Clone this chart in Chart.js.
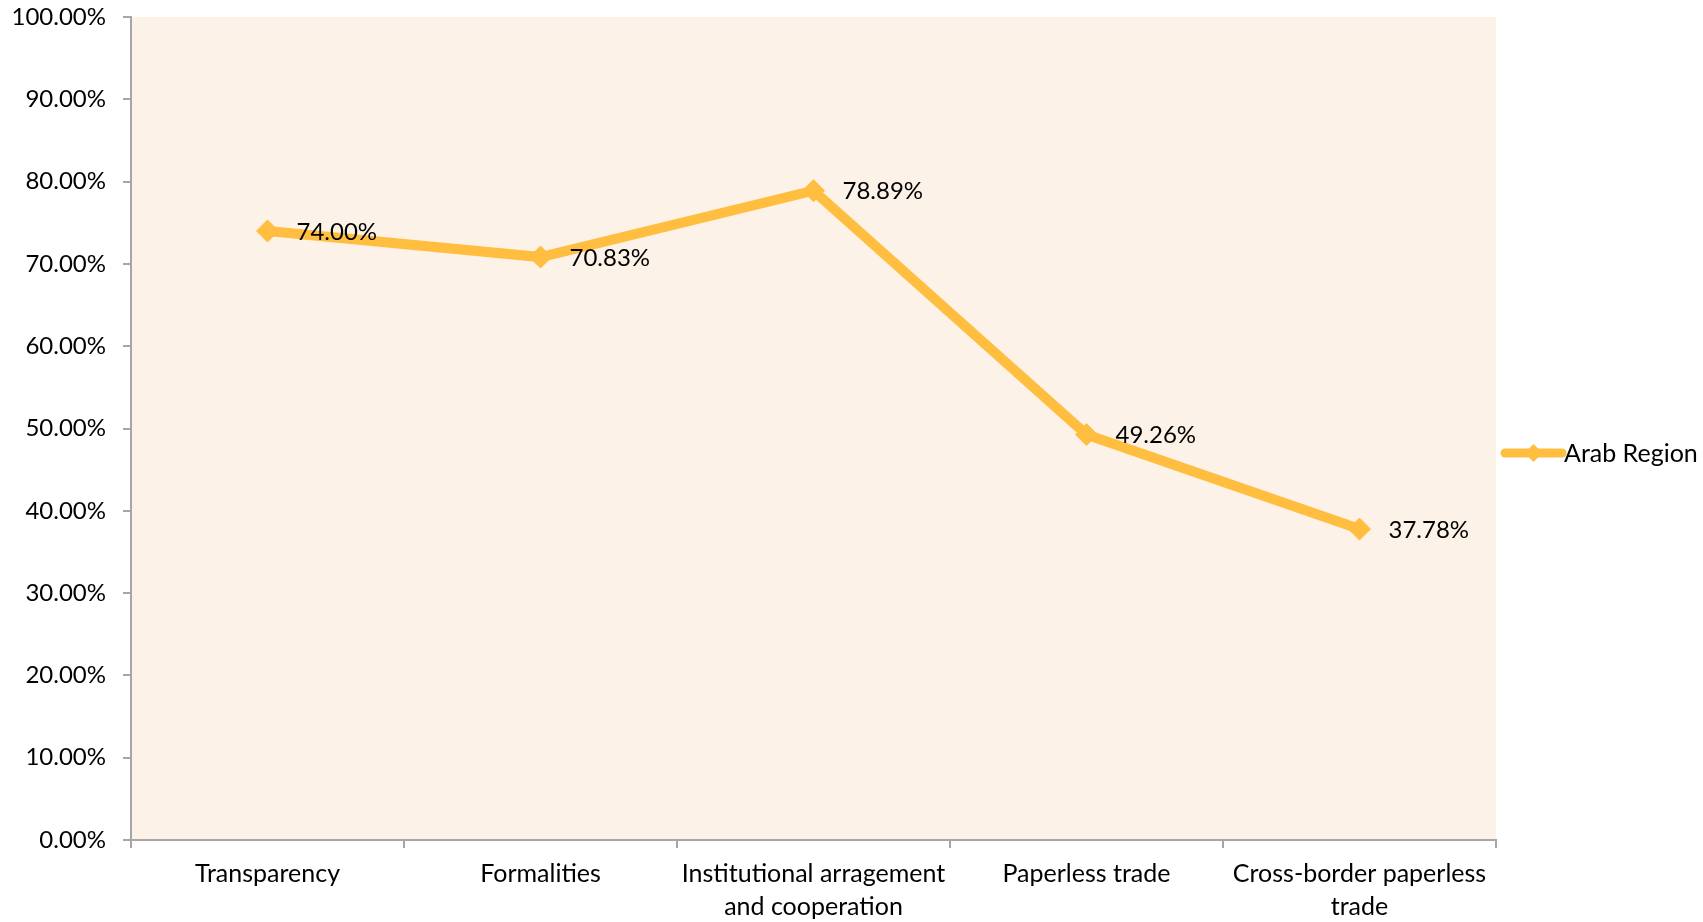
<!DOCTYPE html>
<html>
<head>
<meta charset="utf-8">
<script src="https://cdn.jsdelivr.net/npm/chart.js@4.4.0/dist/chart.umd.min.js"></script>
<style>
  html, body { margin: 0; padding: 0; background: #ffffff; }
  #wrap { width: 1703px; height: 922px; position: relative; }
</style>
</head>
<body>
<div id="wrap"><canvas id="chart"></canvas></div>
<script>
const categories = [
    'Transparency',
    'Formalities',
    ['Institutional arragement', 'and cooperation'],
    'Paperless trade',
    ['Cross-border paperless', 'trade']
];
const seriesName = 'Arab Region';
const arabRegion = [74.00, 70.83, 78.89, 49.26, 37.78];
const yTicks = [0, 10, 20, 30, 40, 50, 60, 70, 80, 90, 100];

const lineColor = '#FFBE40';
const plotBg = '#FDF2E7';
const axisColor = '#A6A6A6';
const fontFamily = 'Lato, "Open Sans", sans-serif';

// fills the plot area like the Excel plot background
const plotBackground = {
    id: 'plotBackground',
    beforeDraw(chart) {
        const { ctx, chartArea: a } = chart;
        ctx.save();
        ctx.fillStyle = plotBg;
        ctx.fillRect(a.left, a.top, a.right - a.left, a.bottom - a.top);
        ctx.restore();
    }
};

// value labels to the right of each point
const valueLabels = {
    id: 'valueLabels',
    afterDatasetsDraw(chart) {
        const { ctx } = chart;
        const meta = chart.getDatasetMeta(0);
        ctx.save();
        ctx.fillStyle = '#000000';
        ctx.font = '24px ' + fontFamily;
        ctx.textAlign = 'left';
        ctx.textBaseline = 'middle';
        meta.data.forEach((pt, i) => {
            ctx.fillText(arabRegion[i].toFixed(2) + '%', pt.x + 29, pt.y + 1);
        });
        ctx.restore();
    }
};

// right side legend: line sample with diamond, then the series name
const sideLegend = {
    id: 'sideLegend',
    afterDraw(chart) {
        const { ctx } = chart;
        const y = 453;
        const x0 = 1505, x1 = 1562;
        ctx.save();
        ctx.strokeStyle = lineColor;
        ctx.lineWidth = 9;
        ctx.lineCap = 'round';
        ctx.beginPath();
        ctx.moveTo(x0, y);
        ctx.lineTo(x1, y);
        ctx.stroke();
        const cx = (x0 + x1) / 2, r = 9;
        ctx.fillStyle = lineColor;
        ctx.beginPath();
        ctx.moveTo(cx, y - r);
        ctx.lineTo(cx + r, y);
        ctx.lineTo(cx, y + r);
        ctx.lineTo(cx - r, y);
        ctx.closePath();
        ctx.fill();
        ctx.fillStyle = '#000000';
        ctx.font = '25px ' + fontFamily;
        ctx.textAlign = 'left';
        ctx.textBaseline = 'middle';
        ctx.fillText(seriesName, 1564, y + 1);
        ctx.restore();
    }
};

new Chart(document.getElementById('chart'), {
    type: 'line',
    data: {
        labels: categories,
        datasets: [{
            label: seriesName,
            data: arabRegion,
            borderColor: lineColor,
            backgroundColor: lineColor,
            borderWidth: 10,
            tension: 0,
            pointStyle: 'rectRot',
            pointRadius: 11,
            pointBorderWidth: 1,
            pointBackgroundColor: lineColor,
            pointBorderColor: lineColor
        }]
    },
    options: {
        responsive: true,
        maintainAspectRatio: false,
        animation: false,
        layout: { autoPadding: false, padding: { left: 0, right: 207, top: 0, bottom: 0 } },
        plugins: {
            legend: { display: false },
            tooltip: { enabled: false }
        },
        scales: {
            x: {
                offset: true,
                afterFit(axis) {
                    axis.height = 82;
                },
                grid: {
                    offset: true,
                    drawOnChartArea: false,
                    drawTicks: true,
                    tickLength: 8,
                    color: axisColor,
                    lineWidth: 2
                },
                border: { color: axisColor, width: 2 },
                ticks: {
                    color: '#000000',
                    font: { family: fontFamily, size: 25, lineHeight: 1.3 },
                    padding: 10,
                    maxRotation: 0,
                    autoSkip: false
                }
            },
            y: {
                min: 0,
                max: 100,
                afterBuildTicks(axis) {
                    axis.ticks = yTicks.map(v => ({ value: v }));
                },
                afterFit(axis) {
                    axis.width = 131;
                    axis.paddingTop = 17;
                    axis.paddingBottom = 14;
                },
                grid: {
                    drawOnChartArea: false,
                    drawTicks: true,
                    tickLength: 8,
                    color: axisColor,
                    lineWidth: 2
                },
                border: { color: axisColor, width: 2 },
                ticks: {
                    color: '#000000',
                    font: { family: fontFamily, size: 24 },
                    padding: 17,
                    callback: v => v.toFixed(2) + '%'
                }
            }
        }
    },
    plugins: [plotBackground, valueLabels, sideLegend]
});
</script>
</body>
</html>
